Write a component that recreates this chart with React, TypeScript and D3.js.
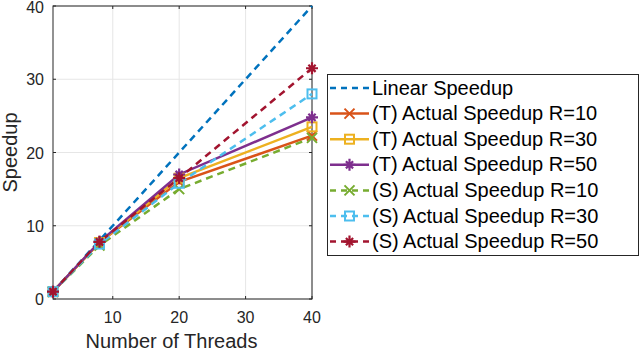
import { useRef, useEffect } from 'react';
import * as d3 from 'd3';

const threads = [1, 8, 20, 40];
const xTicks = [10, 20, 30, 40];
const yTicks = [0, 10, 20, 30, 40];

const linear = [1, 8, 20, 40];
const tR10 = [1, 7.7, 16, 22.3];
const tR30 = [1, 7.7, 16.5, 23.5];
const tR50 = [1, 7.8, 17, 24.8];
const sR10 = [1, 7.3, 15, 22];
const sR30 = [1, 7.5, 15.8, 28];
const sR50 = [1, 7.8, 16.5, 31.5];

const series = [
  { name: 'Linear Speedup', values: linear, color: '#0072BD', dash: true, marker: 'none' },
  { name: '(T) Actual Speedup R=10', values: tR10, color: '#D95319', dash: false, marker: 'x' },
  { name: '(T) Actual Speedup R=30', values: tR30, color: '#EDB120', dash: false, marker: 'square' },
  { name: '(T) Actual Speedup R=50', values: tR50, color: '#7E2F8E', dash: false, marker: 'star' },
  { name: '(S) Actual Speedup R=10', values: sR10, color: '#77AC30', dash: true, marker: 'x' },
  { name: '(S) Actual Speedup R=30', values: sR30, color: '#4DBEEE', dash: true, marker: 'square' },
  { name: '(S) Actual Speedup R=50', values: sR50, color: '#A2142F', dash: true, marker: 'star' },
];

const drawMarker = (g: any, type: string, x: number, y: number, color: string) => {
  const r = 5;
  if (type === 'x') {
    g.append('path')
      .attr('d', `M${x - r},${y - r}L${x + r},${y + r}M${x - r},${y + r}L${x + r},${y - r}`)
      .attr('stroke', color).attr('stroke-width', 2).attr('fill', 'none');
  } else if (type === 'square') {
    g.append('rect')
      .attr('x', x - r + 0.5).attr('y', y - r + 0.5).attr('width', 2 * r - 1).attr('height', 2 * r - 1)
      .attr('stroke', color).attr('stroke-width', 2).attr('fill', 'none');
  } else if (type === 'star') {
    const d = r * 0.72;
    g.append('path')
      .attr('d', `M${x - r - 1},${y}L${x + r + 1},${y}M${x},${y - r - 1}L${x},${y + r + 1}M${x - d},${y - d}L${x + d},${y + d}M${x - d},${y + d}L${x + d},${y - d}`)
      .attr('stroke', color).attr('stroke-width', 2.2).attr('fill', 'none');
  }
};

const App = () => {
  const ref = useRef(null);

  useEffect(() => {
    const width = 640, height = 351;
    const margin = { top: 6, right: 328, bottom: 52, left: 53 };
    const svg = d3.select(ref.current).attr('width', width).attr('height', height);
    svg.selectAll('*').remove();

    const font = 'Liberation Sans, Arial, Helvetica, sans-serif';
    const x = d3.scaleLinear().domain([1, 40]).range([margin.left, width - margin.right]);
    const y = d3.scaleLinear().domain([0, 40]).range([height - margin.bottom, margin.top]);
    const x0 = x.range()[0], x1 = x.range()[1], y0 = y.range()[0], y1 = y.range()[1];

    svg.append('rect').attr('width', width).attr('height', height).attr('fill', 'white');

    // grid
    const grid = svg.append('g');
    xTicks.forEach(t => {
      grid.append('line').attr('x1', x(t)).attr('x2', x(t)).attr('y1', y0).attr('y2', y1)
        .attr('stroke', '#e6e6e6').attr('stroke-width', 1);
    });
    yTicks.forEach(t => {
      grid.append('line').attr('x1', x0).attr('x2', x1).attr('y1', y(t)).attr('y2', y(t))
        .attr('stroke', '#e6e6e6').attr('stroke-width', 1);
    });

    // axes box
    const axis = svg.append('g').attr('stroke', '#262626').attr('stroke-width', 1);
    axis.append('rect').attr('x', x0).attr('y', y1).attr('width', x1 - x0).attr('height', y0 - y1)
      .attr('fill', 'none');
    xTicks.forEach(t => {
      axis.append('line').attr('x1', x(t)).attr('x2', x(t)).attr('y1', y0).attr('y2', y0 - 3);
      axis.append('line').attr('x1', x(t)).attr('x2', x(t)).attr('y1', y1).attr('y2', y1 + 3);
    });
    yTicks.forEach(t => {
      axis.append('line').attr('x1', x0).attr('x2', x0 + 3).attr('y1', y(t)).attr('y2', y(t));
      axis.append('line').attr('x1', x1).attr('x2', x1 - 3).attr('y1', y(t)).attr('y2', y(t));
    });

    const labels = svg.append('g').attr('font-family', font).attr('fill', '#262626').attr('font-size', 16);
    xTicks.forEach(t => {
      labels.append('text').attr('x', x(t)).attr('y', y0 + 24).attr('text-anchor', 'middle').text(t);
    });
    yTicks.forEach(t => {
      labels.append('text').attr('x', x0 - 9).attr('y', Math.max(y(t) + 6, 13)).attr('text-anchor', 'end').text(t);
    });
    labels.append('text').attr('x', (x0 + x1) / 2 - 11).attr('y', 348).attr('text-anchor', 'middle')
      .attr('font-size', 20).text('Number of Threads');
    labels.append('text').attr('transform', `translate(17,${(y0 + y1) / 2}) rotate(-90)`)
      .attr('text-anchor', 'middle').attr('font-size', 20).text('Speedup');

    // lines
    const line = d3.line<number>().x((_, i) => x(threads[i])).y(d => y(d));
    const plot = svg.append('g');
    series.forEach(s => {
      plot.append('path').datum(s.values).attr('d', line)
        .attr('fill', 'none').attr('stroke', s.color).attr('stroke-width', 2.5)
        .attr('stroke-dasharray', s.dash ? '7,5' : null);
    });
    series.forEach(s => {
      s.values.forEach((v, i) => drawMarker(plot, s.marker, x(threads[i]), y(v), s.color));
    });

    // legend
    const lx = 327, ly = 74, lw = 311, lh = 181, rowH = 25.6;
    const legend = svg.append('g');
    legend.append('rect').attr('x', lx + 0.5).attr('y', ly + 0.5).attr('width', lw).attr('height', lh)
      .attr('fill', 'white').attr('stroke', '#262626').attr('stroke-width', 1);
    series.forEach((s, i) => {
      const cy = ly + 14 + i * rowH;
      legend.append('line').attr('x1', lx + 3).attr('x2', lx + 42).attr('y1', cy).attr('y2', cy)
        .attr('stroke', s.color).attr('stroke-width', 2.5)
        .attr('stroke-dasharray', s.dash ? '6,5' : null);
      drawMarker(legend, s.marker, lx + 22.5, cy, s.color);
      legend.append('text').attr('x', lx + 45).attr('y', cy + 6.5).attr('font-family', font)
        .attr('font-size', 20).attr('fill', '#000').text(s.name);
    });
  }, []);

  return <svg ref={ref} style={{ position: 'absolute', left: 0, top: 0 }}></svg>;
};

export default App;
